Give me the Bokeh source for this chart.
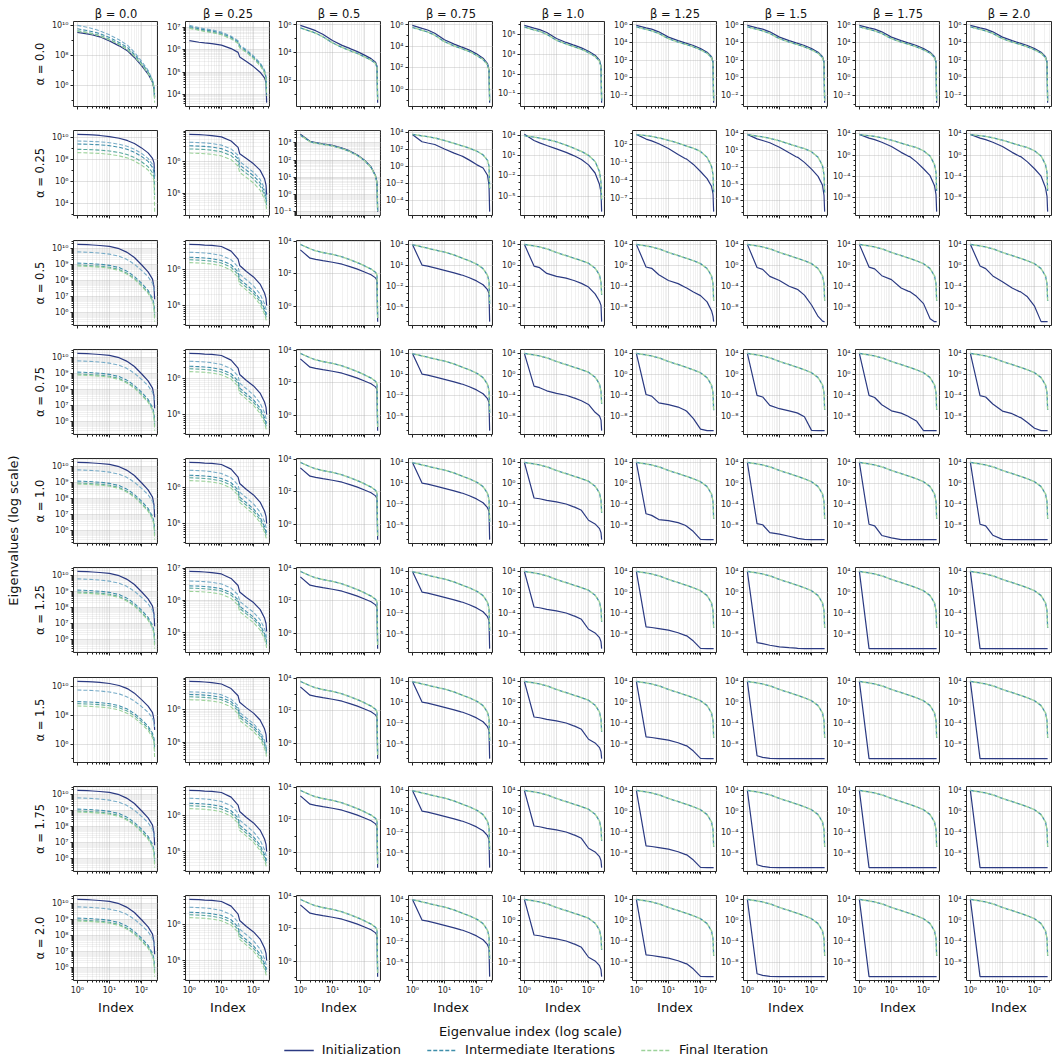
import math
from bokeh.plotting import figure
from bokeh.models import Range1d, FixedTicker, CustomJSTickFormatter, Legend, LegendItem
from bokeh.layouts import row, column
from bokeh.embed import file_html
from bokeh.resources import INLINE
from bokeh.core.properties import value

FONT = "DejaVu Sans"

# ---------------------------------------------------------------- data
ALPHAS = ["0.0", "0.25", "0.5", "0.75", "1.0", "1.25", "1.5", "1.75", "2.0"]
BETAS = ["0.0", "0.25", "0.5", "0.75", "1.0", "1.25", "1.5", "1.75", "2.0"]
X_INDEX = [1, 2, 3, 5, 10, 20, 33, 37, 60, 100, 160, 220, 245, 256]
X_MAJOR = [1, 10, 100]
X_MINOR = [2, 3, 4, 5, 6, 7, 8, 9, 20, 30, 40, 50, 60, 70, 80, 90, 200, 300]

# all eigenvalue series are log10(eigenvalue) at X_INDEX
# alpha = 0.0
A0_B0_INIT = [9.52, 9.42, 9.35, 9.22, 8.95, 8.62, 8.35, 8.28, 7.85, 7.30, 6.75, 6.20, 5.75, 5.20]
A0_B0_MID1 = [9.98, 9.85, 9.76, 9.62, 9.35, 9.02, 8.72, 8.65, 8.20, 7.60, 7.00, 6.35, 5.90, 5.40]
A0_B0_MID2 = [9.75, 9.64, 9.56, 9.43, 9.17, 8.85, 8.57, 8.50, 8.06, 7.48, 6.90, 6.30, 5.85, 5.10]
A0_B0_MID3 = [9.62, 9.52, 9.44, 9.31, 9.05, 8.74, 8.46, 8.39, 7.96, 7.40, 6.83, 6.25, 5.80, 5.00]
A0_B0_FINAL = [9.58, 9.48, 9.40, 9.27, 9.01, 8.70, 8.42, 8.35, 7.92, 7.37, 6.80, 6.22, 5.77, 4.85]

A0_B025_INIT = [6.40, 6.33, 6.30, 6.27, 6.20, 6.05, 5.88, 5.68, 5.48, 5.25, 5.00, 4.75, 4.55, 3.65]
A0_B025_MID1 = [7.08, 6.98, 6.93, 6.88, 6.78, 6.60, 6.40, 6.20, 6.00, 5.72, 5.42, 5.10, 4.80, 4.10]
A0_B025_MID2 = [7.03, 6.93, 6.88, 6.83, 6.73, 6.55, 6.35, 6.15, 5.95, 5.67, 5.37, 5.05, 4.75, 4.05]
A0_B025_MID3 = [6.98, 6.88, 6.83, 6.78, 6.68, 6.50, 6.30, 6.10, 5.90, 5.62, 5.32, 5.00, 4.70, 4.00]
A0_B025_FINAL = [6.95, 6.86, 6.81, 6.76, 6.66, 6.48, 6.28, 6.08, 5.88, 5.60, 5.30, 4.98, 4.68, 3.95]

A0_B05_INIT = [5.93, 5.70, 5.55, 5.30, 4.85, 4.50, 4.30, 4.25, 4.05, 3.80, 3.55, 3.30, 3.00, 0.40]
A0_B05_DASH = [5.75, 5.52, 5.37, 5.12, 4.68, 4.35, 4.15, 4.10, 3.92, 3.68, 3.44, 3.20, 2.92, 0.60]

A0_BHI_INIT_HEAD = [5.93, 5.65, 5.50, 5.20, 4.60, 4.20, 3.95, 3.90, 3.65, 3.30, 2.90, 2.40, 1.80]
A0_BHI_DASH_HEAD = [5.75, 5.47, 5.32, 5.02, 4.42, 4.04, 3.80, 3.75, 3.51, 3.17, 2.78, 2.30, 1.72]
A0_INIT_LAST = [-1.2, -1.9, -2.8, -2.8, -2.8, -2.8]   # beta = 0.75 ... 2.0
A0_DASH_LAST = [-1.0, -1.7, -2.6, -2.6, -2.6, -2.6]

# alpha = 0.25
A025_B0_INIT = [10.27, 10.25, 10.22, 10.17, 10.07, 9.92, 9.75, 9.70, 9.45, 9.05, 8.60, 8.10, 7.70, 6.50]
A025_B0_MID1 = [9.67, 9.65, 9.63, 9.60, 9.52, 9.38, 9.22, 9.18, 8.92, 8.55, 8.10, 7.55, 7.10, 6.30]
A025_B0_MID2 = [9.40, 9.38, 9.36, 9.33, 9.25, 9.11, 8.95, 8.91, 8.65, 8.28, 7.83, 7.28, 6.85, 5.60]
A025_B0_MID3 = [8.92, 8.90, 8.88, 8.85, 8.77, 8.63, 8.47, 8.43, 8.17, 7.80, 7.35, 6.80, 6.40, 4.80]
A025_B0_FINAL = [8.62, 8.60, 8.58, 8.55, 8.47, 8.33, 8.17, 8.13, 7.87, 7.50, 7.05, 6.50, 6.10, 3.30]

A025_B025_INIT = [6.86, 6.85, 6.84, 6.82, 6.78, 6.65, 6.45, 6.25, 6.10, 5.93, 5.73, 5.46, 5.26, 4.95]
A025_B025_MID1 = [6.61, 6.60, 6.59, 6.57, 6.52, 6.40, 6.20, 6.00, 5.84, 5.66, 5.44, 5.16, 4.98, 4.75]
A025_B025_MID2 = [6.50, 6.49, 6.48, 6.46, 6.41, 6.29, 6.09, 5.89, 5.73, 5.55, 5.33, 5.05, 4.87, 4.65]
A025_B025_MID3 = [6.40, 6.39, 6.38, 6.36, 6.31, 6.19, 5.99, 5.79, 5.63, 5.45, 5.23, 4.95, 4.77, 4.55]
A025_B025_FINAL = [6.27, 6.26, 6.25, 6.23, 6.18, 6.06, 5.86, 5.66, 5.50, 5.32, 5.10, 4.82, 4.64, 4.42]

A025_B05_INIT = [3.50, 3.10, 3.02, 2.95, 2.86, 2.70, 2.55, 2.50, 2.30, 2.00, 1.60, 1.10, 0.70, -1.00]
A025_B05_DASH = [3.45, 3.07, 2.99, 2.92, 2.83, 2.67, 2.52, 2.47, 2.27, 1.97, 1.57, 1.07, 0.67, -0.95]
A025_B075_INIT = [3.80, 2.95, 2.80, 2.62, 2.10, 1.60, 1.30, 1.22, 0.78, 0.25, -0.15, -1.00, -2.20, -5.30]
A025_B075_DASH = [3.82, 3.65, 3.55, 3.40, 3.10, 2.75, 2.50, 2.45, 2.20, 1.85, 1.40, 0.75, 0.10, -2.60]
A025_B1_INIT = [4.10, 3.20, 2.85, 2.45, 1.95, 1.45, 1.00, 0.90, 0.40, -0.40, -1.60, -3.30, -4.50, -7.30]
A025_B1_DASH = [3.90, 3.70, 3.55, 3.35, 3.00, 2.50, 2.10, 2.00, 1.60, 1.00, 0.10, -1.40, -3.00, -5.60]
A025_B125_INIT = [3.80, 3.00, 2.70, 2.20, 1.40, 0.40, -0.30, -0.40, -1.30, -2.50, -3.70, -5.00, -6.30, -9.30]
A025_B125_DASH = [3.75, 3.60, 3.45, 3.20, 2.80, 2.30, 1.90, 1.80, 1.45, 0.90, -0.10, -1.60, -3.00, -6.00]
A025_B15_INIT = [3.90, 3.10, 2.80, 2.40, 1.60, 0.60, -0.10, -0.20, -1.10, -2.30, -3.60, -5.20, -7.00, -9.90]
A025_B15_DASH = [3.85, 3.60, 3.45, 3.20, 2.75, 2.20, 1.80, 1.70, 1.35, 0.80, -0.20, -1.70, -3.30, -6.50]
A025_B175_INIT = [3.90, 3.20, 2.90, 2.40, 1.60, 0.50, -0.20, -0.30, -1.30, -2.60, -3.90, -5.80, -7.50, -10.70]
A025_B175_DASH = [3.85, 3.65, 3.50, 3.25, 2.80, 2.25, 1.85, 1.75, 1.40, 0.80, -0.20, -1.80, -3.30, -6.80]
A025_B2_INIT = [3.90, 3.20, 2.90, 2.40, 1.60, 0.50, -0.20, -0.30, -1.30, -2.60, -4.00, -6.20, -7.80, -10.70]
A025_B2_DASH = [3.85, 3.65, 3.50, 3.25, 2.80, 2.25, 1.85, 1.75, 1.40, 0.80, -0.20, -1.80, -3.30, -6.80]

# alpha >= 0.5
HI_B0_INIT = [10.27, 10.25, 10.23, 10.20, 10.14, 10.00, 9.80, 9.75, 9.45, 9.00, 8.55, 8.10, 7.60, 6.85]
HI_B0_MID1 = [9.80, 9.78, 9.76, 9.73, 9.66, 9.53, 9.35, 9.30, 9.03, 8.65, 8.25, 7.85, 7.55, 7.25]
HI_B0_MID2 = [9.10, 9.08, 9.06, 9.03, 8.96, 8.82, 8.62, 8.57, 8.27, 7.85, 7.40, 6.90, 6.55, 6.00]
HI_B0_MID3 = [8.98, 8.96, 8.94, 8.91, 8.84, 8.70, 8.50, 8.45, 8.15, 7.73, 7.28, 6.78, 6.43, 5.75]
HI_B0_FINAL = [8.92, 8.90, 8.88, 8.85, 8.78, 8.64, 8.44, 8.39, 8.09, 7.67, 7.22, 6.72, 6.37, 5.45]

A15_B0_INIT = [10.37, 10.35, 10.33, 10.30, 10.22, 10.08, 9.90, 9.85, 9.55, 9.10, 8.65, 8.20, 7.70, 7.00]
A15_B0_MID1 = [9.77, 9.75, 9.73, 9.70, 9.63, 9.50, 9.32, 9.27, 9.00, 8.62, 8.22, 7.82, 7.50, 7.20]
A15_B0_MID2 = [8.96, 8.94, 8.92, 8.89, 8.82, 8.68, 8.48, 8.43, 8.13, 7.71, 7.26, 6.76, 6.40, 5.80]
A15_B0_MID3 = [8.82, 8.80, 8.78, 8.75, 8.68, 8.54, 8.34, 8.29, 7.99, 7.57, 7.12, 6.62, 6.26, 5.50]
A15_B0_FINAL = [8.66, 8.64, 8.62, 8.59, 8.52, 8.38, 8.18, 8.13, 7.83, 7.41, 6.96, 6.46, 6.10, 5.00]

HI_B025_INIT = [6.71, 6.70, 6.69, 6.68, 6.65, 6.52, 6.30, 6.12, 5.95, 5.80, 5.60, 5.35, 5.20, 5.00]
HI_B025_MID1 = [6.49, 6.48, 6.47, 6.45, 6.40, 6.28, 6.08, 5.88, 5.72, 5.55, 5.32, 5.05, 4.90, 4.75]
HI_B025_MID2 = [6.35, 6.34, 6.33, 6.31, 6.26, 6.14, 5.94, 5.74, 5.58, 5.41, 5.18, 4.91, 4.76, 4.68]
HI_B025_MID3 = [6.28, 6.27, 6.26, 6.24, 6.19, 6.07, 5.87, 5.67, 5.51, 5.34, 5.11, 4.84, 4.69, 4.62]
HI_B025_FINAL = [6.20, 6.19, 6.18, 6.16, 6.11, 5.99, 5.79, 5.59, 5.43, 5.26, 5.03, 4.76, 4.61, 4.55]

A125_B025_INIT = [6.90, 6.89, 6.88, 6.86, 6.82, 6.68, 6.46, 6.26, 6.09, 5.93, 5.72, 5.45, 5.28, 5.03]
A125_B025_MID1 = [6.60, 6.59, 6.58, 6.56, 6.51, 6.38, 6.17, 5.97, 5.80, 5.63, 5.40, 5.12, 4.96, 4.80]
A125_B025_MID2 = [6.45, 6.44, 6.43, 6.41, 6.36, 6.23, 6.02, 5.82, 5.65, 5.48, 5.25, 4.97, 4.81, 4.70]
A125_B025_MID3 = [6.38, 6.37, 6.36, 6.34, 6.29, 6.16, 5.95, 5.75, 5.58, 5.41, 5.18, 4.90, 4.74, 4.62]
A125_B025_FINAL = [6.28, 6.27, 6.26, 6.24, 6.19, 6.06, 5.85, 5.65, 5.48, 5.31, 5.08, 4.80, 4.64, 4.50]

A15_B025_INIT = [6.86, 6.85, 6.84, 6.82, 6.78, 6.64, 6.42, 6.22, 6.05, 5.89, 5.68, 5.41, 5.24, 5.00]
A15_B025_MID1 = [6.54, 6.53, 6.52, 6.50, 6.45, 6.32, 6.11, 5.91, 5.74, 5.57, 5.34, 5.06, 4.90, 4.75]
A15_B025_MID2 = [6.46, 6.45, 6.44, 6.42, 6.37, 6.24, 6.03, 5.83, 5.66, 5.49, 5.26, 4.98, 4.82, 4.68]
A15_B025_MID3 = [6.39, 6.38, 6.37, 6.35, 6.30, 6.17, 5.96, 5.76, 5.59, 5.42, 5.19, 4.91, 4.75, 4.60]
A15_B025_FINAL = [6.30, 6.29, 6.28, 6.26, 6.21, 6.08, 5.87, 5.67, 5.50, 5.33, 5.10, 4.82, 4.66, 4.50]

HI_B05_INIT = [3.48, 2.97, 2.90, 2.82, 2.72, 2.60, 2.47, 2.44, 2.30, 2.12, 1.95, 1.76, 1.60, -0.93]
HI_B05_DASH = [3.82, 3.55, 3.42, 3.32, 3.20, 3.05, 2.90, 2.86, 2.70, 2.50, 2.30, 2.10, 1.95, -0.70]
HI_B075_INIT = [4.00, 1.05, 0.90, 0.65, 0.30, -0.05, -0.35, -0.40, -0.75, -1.20, -1.75, -2.45, -3.00, -7.00]
HI_B075_DASH = [3.95, 3.65, 3.45, 3.20, 2.90, 2.50, 2.10, 2.00, 1.65, 1.20, 0.55, -0.40, -1.30, -4.50]

HI_B1_R2 = [4.05, -0.10, -0.40, -1.50, -2.05, -2.40, -2.80, -2.90, -3.40, -4.10, -5.40, -6.80, -7.60, -10.70]
HI_B1_R3 = [4.05, -2.20, -2.50, -3.10, -3.60, -3.95, -4.40, -4.50, -5.00, -5.70, -7.20, -7.90, -8.70, -10.70]
HI_B1_R4 = [4.05, -2.75, -2.90, -3.20, -3.50, -3.90, -4.40, -4.50, -5.10, -7.00, -7.70, -8.60, -9.40, -10.70]
HI_B1_DASH = [4.05, 3.75, 3.55, 3.20, 2.50, 1.90, 1.45, 1.35, 0.95, 0.45, -0.50, -1.80, -3.20, -5.60]

HI_B125_R2 = [4.05, -0.30, -0.55, -1.80, -2.90, -3.50, -4.20, -4.35, -5.10, -5.80, -7.00, -8.70, -9.80, -10.80]
HI_B125_R3 = [4.05, -3.80, -4.10, -5.40, -5.75, -6.20, -6.80, -7.00, -8.40, -10.40, -10.70, -10.70, -10.70, -10.70]
HI_B125_R4 = [4.05, -5.80, -6.10, -6.90, -7.10, -7.50, -8.00, -8.20, -9.20, -10.70, -10.75, -10.75, -10.75, -10.75]
HI_B125_R5 = [4.05, -6.60, -6.70, -6.90, -7.20, -7.70, -8.20, -8.30, -9.30, -10.70, -10.75, -10.75, -10.75, -10.75]

HI_B15_R2 = [4.05, -0.40, -0.75, -2.10, -2.90, -4.00, -4.50, -4.62, -5.70, -7.60, -9.80, -10.70, -10.80, -10.80]
HI_B15_R3 = [4.05, -4.00, -4.30, -5.90, -6.55, -6.95, -7.30, -7.40, -8.10, -10.70, -10.75, -10.75, -10.75, -10.75]
HI_B15_R4 = [4.05, -7.70, -7.90, -9.40, -9.70, -10.10, -10.40, -10.50, -10.70, -10.75, -10.75, -10.75, -10.75, -10.75]
HI_B15_R5 = [4.05, -9.60, -9.80, -10.10, -10.40, -10.55, -10.65, -10.70, -10.75, -10.75, -10.75, -10.75, -10.75, -10.75]
HI_B15_R6 = [4.05, -10.20, -10.50, -10.70, -10.75, -10.75, -10.75, -10.75, -10.75, -10.75, -10.75, -10.75, -10.75, -10.75]

HI_B175_R2 = [4.05, -0.30, -0.65, -1.95, -2.70, -4.30, -4.90, -5.00, -5.90, -7.30, -10.20, -10.75, -10.75, -10.75]
HI_B175_R3 = [4.05, -4.00, -4.40, -5.80, -6.95, -7.40, -8.00, -8.20, -8.90, -10.75, -10.75, -10.75, -10.75, -10.75]
HI_B175_R4 = [4.05, -7.80, -8.10, -9.95, -10.40, -10.75, -10.75, -10.75, -10.75, -10.75, -10.75, -10.75, -10.75, -10.75]

HI_B2_R2 = [4.05, -0.10, -0.60, -2.00, -3.10, -4.30, -4.95, -5.05, -6.00, -7.80, -10.75, -10.75, -10.75, -10.75]
HI_B2_R3 = [4.05, -4.05, -4.30, -5.65, -7.00, -7.50, -8.15, -8.25, -9.20, -10.30, -10.75, -10.75, -10.75, -10.75]
HI_B2_R4 = [4.05, -7.80, -8.10, -9.90, -10.70, -10.75, -10.75, -10.75, -10.75, -10.75, -10.75, -10.75, -10.75, -10.75]

HI_FLAT = [4.05, -10.75, -10.75, -10.75, -10.75, -10.75, -10.75, -10.75, -10.75, -10.75, -10.75, -10.75, -10.75, -10.75]
HI_DASH = [4.05, 3.75, 3.55, 3.20, 2.50, 1.90, 1.45, 1.35, 0.90, 0.35, -0.60, -2.00, -3.50, -6.80]

# panel table: (row alpha, col beta) -> (init, [intermediates], final)
TABLE = {}
TABLE[(0, 0)] = (A0_B0_INIT, [A0_B0_MID1, A0_B0_MID2, A0_B0_MID3], A0_B0_FINAL)
TABLE[(0, 1)] = (A0_B025_INIT, [A0_B025_MID1, A0_B025_MID2, A0_B025_MID3], A0_B025_FINAL)
TABLE[(0, 2)] = (A0_B05_INIT, [A0_B05_DASH], A0_B05_DASH)
for k in range(6):
    ini = A0_BHI_INIT_HEAD + [A0_INIT_LAST[k]]
    dsh = A0_BHI_DASH_HEAD + [A0_DASH_LAST[k]]
    TABLE[(0, 3 + k)] = (ini, [dsh], dsh)

TABLE[(1, 0)] = (A025_B0_INIT, [A025_B0_MID1, A025_B0_MID2, A025_B0_MID3], A025_B0_FINAL)
TABLE[(1, 1)] = (A025_B025_INIT, [A025_B025_MID1, A025_B025_MID2, A025_B025_MID3], A025_B025_FINAL)
for c, (ini, dsh) in enumerate([(A025_B05_INIT, A025_B05_DASH), (A025_B075_INIT, A025_B075_DASH),
                                (A025_B1_INIT, A025_B1_DASH), (A025_B125_INIT, A025_B125_DASH),
                                (A025_B15_INIT, A025_B15_DASH), (A025_B175_INIT, A025_B175_DASH),
                                (A025_B2_INIT, A025_B2_DASH)]):
    TABLE[(1, 2 + c)] = (ini, [dsh], dsh)

COL1 = {5: (A125_B025_INIT, [A125_B025_MID1, A125_B025_MID2, A125_B025_MID3], A125_B025_FINAL),
        6: (A15_B025_INIT, [A15_B025_MID1, A15_B025_MID2, A15_B025_MID3], A15_B025_FINAL)}
COL4 = {2: HI_B1_R2, 3: HI_B1_R3}
COL5 = {2: HI_B125_R2, 3: HI_B125_R3, 4: HI_B125_R4}
COL6 = {2: HI_B15_R2, 3: HI_B15_R3, 4: HI_B15_R4, 5: HI_B15_R5}
COL7 = {2: HI_B175_R2, 3: HI_B175_R3, 4: HI_B175_R4}
COL8 = {2: HI_B2_R2, 3: HI_B2_R3, 4: HI_B2_R4}
for r in range(2, 9):
    if r == 6:
        TABLE[(r, 0)] = (A15_B0_INIT, [A15_B0_MID1, A15_B0_MID2, A15_B0_MID3], A15_B0_FINAL)
    else:
        TABLE[(r, 0)] = (HI_B0_INIT, [HI_B0_MID1, HI_B0_MID2, HI_B0_MID3], HI_B0_FINAL)
    TABLE[(r, 1)] = COL1.get(r, (HI_B025_INIT, [HI_B025_MID1, HI_B025_MID2, HI_B025_MID3], HI_B025_FINAL))
    TABLE[(r, 2)] = (HI_B05_INIT, [HI_B05_DASH], HI_B05_DASH)
    TABLE[(r, 3)] = (HI_B075_INIT, [HI_B075_DASH], HI_B075_DASH)
    TABLE[(r, 4)] = (COL4.get(r, HI_B1_R4), [HI_B1_DASH], HI_B1_DASH)
    TABLE[(r, 5)] = (COL5.get(r, HI_B125_R5), [HI_DASH], HI_DASH)
    TABLE[(r, 6)] = (COL6.get(r, HI_B15_R6), [HI_DASH], HI_DASH)
    TABLE[(r, 7)] = (COL7.get(r, HI_FLAT), [HI_DASH], HI_DASH)
    TABLE[(r, 8)] = (COL8.get(r, HI_FLAT), [HI_DASH], HI_DASH)

# ---------------------------------------------------------------- style / layout
INIT_COLOR = "#2b3a82"
MID_COLORS = ["#78acc8", "#3f8eaa", "#5aa89f"]
ONE_MID_COLOR = "#3f8eaa"
FINAL_COLOR = "#9cd29a"

TOTAL_W = 1052
FRAME = 85
STRIP_W = 46
HEADER_H = 20
B_ROW = 14
B_LAST = 32
LEGEND_H = 42
FRAME_LEFTS = [73, 185, 296, 408, 520, 632, 743, 855, 966]
FRAME_TOPS = [21, 130, 240, 349, 458, 567, 677, 786, 895]

SUP_JS = """
const sup = {"-": "\u207b", "0": "\u2070", "1": "\u00b9", "2": "\u00b2", "3": "\u00b3",
             "4": "\u2074", "5": "\u2075", "6": "\u2076", "7": "\u2077", "8": "\u2078", "9": "\u2079"};
const e = Math.round(Math.log10(tick));
let s = "";
for (const ch of String(e)) { s += sup[ch]; }
return "10" + s;
"""
FORMATTER = CustomJSTickFormatter(code=SUP_JS)
X_TICKER = FixedTicker(ticks=X_MAJOR, minor_ticks=X_MINOR)
LOGX_LO = -0.05 * math.log10(256)
LOGX_HI = 1.05 * math.log10(256)


def mpl_log_ticks(lo, hi, numticks=5):
    numdec = math.floor(hi) - math.ceil(lo)
    stride = numdec // numticks + 1
    if stride >= numdec:
        stride = max(1, numdec - 1)
    majors = []
    d = math.floor(lo) - stride
    while d <= math.ceil(hi) + stride:
        if lo <= d <= hi:
            majors.append(d)
        d += stride
    if stride == 1:
        minors = []
        for k in range(math.floor(lo), math.ceil(hi) + 1):
            for m in range(2, 10):
                lv = k + math.log10(m)
                if lo <= lv <= hi:
                    minors.append(m * 10.0 ** k)
    else:
        minors = [10.0 ** k for k in range(math.ceil(lo), math.floor(hi) + 1) if k not in majors]
    return [10.0 ** d for d in majors], minors, stride


def make_panel(r, c):
    init, mids, final = TABLE[(r, c)]
    allv = list(init) + list(final) + [v for m in mids for v in m]
    vmin, vmax = min(allv), max(allv)
    span = vmax - vmin
    lo, hi = vmin - 0.05 * span, vmax + 0.05 * span
    majors, minors, stride = mpl_log_ticks(lo, hi)

    L = FRAME_LEFTS[c] - (STRIP_W if c == 0 else FRAME_LEFTS[c - 1] + FRAME)
    R = (TOTAL_W - (FRAME_LEFTS[c] + FRAME)) if c == 8 else 0
    T = FRAME_TOPS[r] - (HEADER_H if r == 0 else FRAME_TOPS[r - 1] + FRAME + B_ROW)
    B = B_LAST if r == 8 else B_ROW

    p = figure(x_axis_type="log", y_axis_type="log",
               x_range=Range1d(10 ** LOGX_LO, 10 ** LOGX_HI),
               y_range=Range1d(10 ** lo, 10 ** hi),
               frame_width=FRAME, frame_height=FRAME,
               min_border_left=L, min_border_right=R, min_border_top=T, min_border_bottom=B,
               toolbar_location=None, output_backend="svg")
    p.outline_line_color = "#111111"
    p.outline_line_width = 0.9
    y_ticker = FixedTicker(ticks=majors, minor_ticks=minors)
    p.xaxis.ticker = X_TICKER
    p.yaxis.ticker = y_ticker
    p.xgrid.ticker = X_TICKER
    p.ygrid.ticker = y_ticker
    for ax in (p.xaxis[0], p.yaxis[0]):
        ax.axis_line_color = None
        ax.major_tick_line_color = "#222222"
        ax.minor_tick_line_color = "#222222"
        ax.major_tick_out = 3
        ax.major_tick_in = 0
        ax.minor_tick_out = 2
        ax.minor_tick_in = 0
        ax.major_label_text_font = FONT
        ax.major_label_text_font_size = "8px"
        ax.major_label_text_color = "#262626"
        ax.major_label_standoff = 2
        ax.formatter = FORMATTER
    if r < 8:
        p.xaxis.major_label_text_font_size = "1px"
        p.xaxis.major_label_text_color = None
    else:
        p.xaxis.axis_label = "Index"
        p.xaxis.axis_label_text_font = FONT
        p.xaxis.axis_label_text_font_size = "13px"
        p.xaxis.axis_label_text_font_style = "normal"
        p.xaxis.axis_label_text_color = "#111111"
        p.xaxis.axis_label_standoff = 2
    p.grid.grid_line_color = "#b0b0b0"
    p.grid.grid_line_alpha = 0.55
    p.grid.grid_line_width = 0.7
    p.xgrid.minor_grid_line_color = "#b0b0b0"
    p.xgrid.minor_grid_line_alpha = 0.3
    p.xgrid.minor_grid_line_width = 0.6
    if stride == 1:
        p.ygrid.minor_grid_line_color = "#b0b0b0"
        p.ygrid.minor_grid_line_alpha = 0.3
        p.ygrid.minor_grid_line_width = 0.6

    p.line(X_INDEX, [10 ** v for v in init], line_color=INIT_COLOR, line_width=1.2)
    if len(mids) > 1:
        for k, m in enumerate(mids):
            p.line(X_INDEX, [10 ** v for v in m], line_color=MID_COLORS[k], line_width=1.1,
                   line_dash="4 2")
        p.line(X_INDEX, [10 ** v for v in final], line_color=FINAL_COLOR, line_width=1.1,
               line_dash="4 2")
    else:
        p.line(X_INDEX, [10 ** v for v in mids[0]], line_color=ONE_MID_COLOR, line_width=1.3,
               line_dash="4 2")
        p.line(X_INDEX, [10 ** v for v in final], line_color=FINAL_COLOR, line_width=1.3,
               line_dash="4 2", line_dash_offset=3)
    return p


rows = []
for r in range(9):
    rows.append(row([make_panel(r, c) for c in range(9)]))

# header with beta titles
HEAD_W = TOTAL_W - STRIP_W
header = figure(width=HEAD_W, height=HEADER_H, x_range=Range1d(0, HEAD_W), y_range=Range1d(HEADER_H, 0),
                min_border=0, x_axis_location=None, y_axis_location=None, toolbar_location=None,
                output_backend="svg", outline_line_color=None)
header.grid.visible = False
header.text(x=[FRAME_LEFTS[c] + FRAME / 2 - STRIP_W for c in range(9)], y=[13] * 9,
            text=["\u03b2 = " + b for b in BETAS], text_font=value(FONT), text_font_size="11.5px",
            text_align="center", text_baseline="middle", text_color="#111111")

GRID_H = FRAME_TOPS[8] + FRAME + B_LAST
strip = figure(width=STRIP_W, height=GRID_H, x_range=Range1d(0, STRIP_W), y_range=Range1d(GRID_H, 0),
               min_border=0, x_axis_location=None, y_axis_location=None, toolbar_location=None,
               output_backend="svg", outline_line_color=None)
strip.grid.visible = False
strip.text(x=[39] * 9, y=[FRAME_TOPS[r] + FRAME / 2 for r in range(9)],
           text=["\u03b1 = " + a for a in ALPHAS], angle=math.pi / 2,
           text_font=value(FONT), text_font_size="11.5px", text_align="center",
           text_baseline="middle", text_color="#111111")
strip.text(x=[13], y=[530], text=["Eigenvalues (log scale)"], angle=math.pi / 2,
           text_font=value(FONT), text_font_size="13px", text_align="center",
           text_baseline="middle", text_color="#111111")

lf = figure(width=TOTAL_W, height=LEGEND_H, x_range=Range1d(0, TOTAL_W), y_range=Range1d(LEGEND_H, 0),
            min_border=0, x_axis_location=None, y_axis_location=None, toolbar_location=None,
            output_backend="svg", outline_line_color=None)
lf.grid.visible = False
lf.text(x=[530], y=[14], text=["Eigenvalue index (log scale)"], text_font=value(FONT),
        text_font_size="13px", text_align="center", text_baseline="middle", text_color="#111111")
NAN2 = [float("nan"), float("nan")]
r_init = lf.line(x=NAN2, y=NAN2, line_color=INIT_COLOR, line_width=1.4)
r_mid = lf.line(x=NAN2, y=NAN2, line_color=ONE_MID_COLOR, line_width=1.4, line_dash="4 2")
r_fin = lf.line(x=NAN2, y=NAN2, line_color=FINAL_COLOR, line_width=1.4, line_dash="4 2")
legend = Legend(items=[LegendItem(label="Initialization", renderers=[r_init]),
                       LegendItem(label="Intermediate Iterations", renderers=[r_mid]),
                       LegendItem(label="Final Iteration", renderers=[r_fin])],
                orientation="horizontal", location="bottom_center",
                border_line_color=None, background_fill_alpha=0, padding=0, margin=2,
                spacing=26, glyph_width=30, glyph_height=14, label_standoff=8, label_height=14,
                label_text_font=FONT, label_text_font_size="13px", label_text_color="#111111")
lf.add_layout(legend, "center")

layout = column(row(strip, column([header] + rows)), lf)

with open("out.html", "w", encoding="utf-8") as f:
    f.write(file_html(layout, INLINE))
